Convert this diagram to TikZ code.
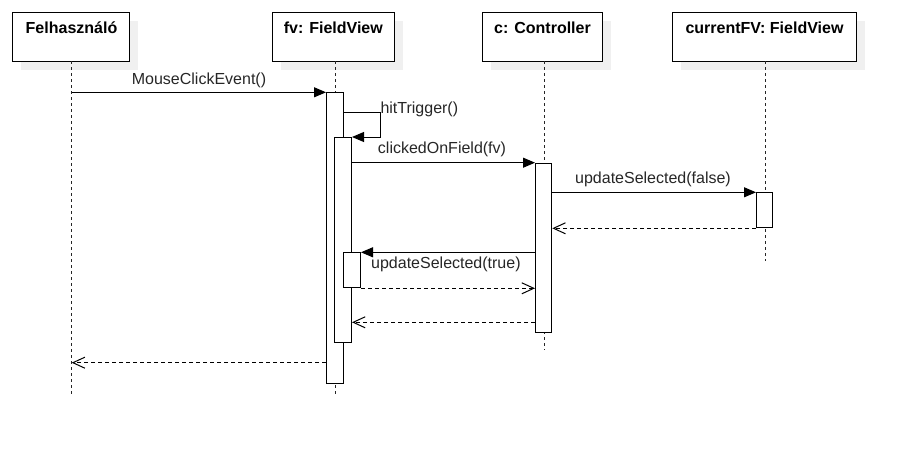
\documentclass[tikz,border=0pt]{standalone}
\usepackage{fontspec}
\setmainfont{Liberation Sans}
\usetikzlibrary{arrows.meta}
\begin{document}
\begin{tikzpicture}[x=1pt,y=-1pt,
  head/.style={draw=black,line width=1pt,fill=white,minimum width=#1,minimum height=49pt,inner sep=0pt,outer sep=0pt,anchor=north west},
  headtext/.style={font=\fontsize{16}{18}\selectfont\bfseries,anchor=base,inner sep=0pt},
  shadowbox/.style={fill=black!6,draw=none},
  life/.style={line width=1pt,dash pattern=on 3pt off 3pt,black!85},
  act/.style={draw=black,line width=1pt,fill=white},
  msg/.style={line width=1pt,-{Triangle[length=12pt,width=10pt]}},
  ret/.style={line width=1pt,dash pattern=on 4pt off 3pt,-{Straight Barb[length=12pt,width=11pt,line width=1pt]}},
  lbl/.style={font=\fontsize{16}{18}\selectfont,inner sep=0pt,text=black!85}
]
\useasboundingbox (0,0) rectangle (906,450);
% shadows
\fill[shadowbox] (21,20.7) rectangle (138,70);
\fill[shadowbox] (280.5,20.7) rectangle (402.5,70);
\fill[shadowbox] (490.5,20.7) rectangle (611,70);
\fill[shadowbox] (680.5,20.7) rectangle (865,70);
% heads
\node[head=116.5pt] (hU) at (12.7,12.3) {};
\node[head=122pt] (hF) at (272.3,12.3) {};
\node[head=120.4pt] (hC) at (482.3,12.3) {};
\node[head=184.4pt] (hV) at (672.3,12.3) {};
\node[headtext] at (71.5,33.5) {Felhasználó};
\node[headtext] at (333.3,33.5) {fv: FieldView};
\node[headtext] at (542.5,33.5) {c: Controller};
\node[headtext] at (764.5,33.5) {currentFV: FieldView};
% lifeline ends
\coordinate (eU) at (71.7,397);
\coordinate (eF) at (335.7,397);
\coordinate (eC) at (544.3,350);
\coordinate (eV) at (765.7,261);
\draw[life] (71.7,61.3) -- (eU);
\draw[life] (335.7,61.3) -- (eF);
\draw[life] (544.3,61.3) -- (eC);
\draw[life] (765.7,61.3) -- (eV);
% activations
\node[act,minimum width=16.7pt,minimum height=290.4pt,inner sep=0pt,anchor=north west] (aF) at (326,92.3) {};
\node[act,minimum width=16.7pt,minimum height=205.6pt,inner sep=0pt,anchor=north west] (aF2) at (334.3,136.7) {};
\node[act,minimum width=16.7pt,minimum height=35pt,inner sep=0pt,anchor=north west] (aF3) at (343.3,252.3) {};
\node[act,minimum width=16.3pt,minimum height=169.6pt,inner sep=0pt,anchor=north west] (aC) at (535,162.7) {};
\node[act,minimum width=16.3pt,minimum height=35pt,inner sep=0pt,anchor=north west] (aV) at (756,192.3) {};
% messages
\coordinate (uS) at (71.7,92.3);
\draw[msg] (uS) -- (aF.north west);
\node[lbl,anchor=base] at (199,84.5) {MouseClickEvent()};
\coordinate (hs) at (aF.east |- 0,112.3);
\coordinate (he) at (aF2.east |- 0,137);
\draw[msg] (hs) -- (380,112.3) -- (380,137) -- (he);
\node[lbl,anchor=base west] at (380.3,113.3) {hitTrigger()};
\coordinate (c1) at (aF2.east |- aC.north);
\draw[msg] (c1) -- (aC.north west);
\node[lbl,anchor=base] at (442,153.3) {clickedOnField(fv)};
\coordinate (c2) at (aC.east |- aV.north);
\draw[msg] (c2) -- (aV.north west);
\node[lbl,anchor=base] at (653,183.3) {updateSelected(false)};
\coordinate (r1) at (aC.east |- aV.south);
\draw[ret] (aV.south west) -- (r1);
\coordinate (c3) at (aC.west |- aF3.north);
\draw[msg] (c3) -- (aF3.north east);
\node[lbl,anchor=base west] at (371,268.5) {updateSelected(true)};
\coordinate (r2) at (aC.west |- aF3.south);
\draw[ret] (aF3.south east) -- (r2);
\coordinate (r3s) at (aC.west |- 0,322.3);
\coordinate (r3e) at (aF2.east |- 0,322.3);
\draw[ret] (r3s) -- (r3e);
\coordinate (r4s) at (aF.west |- 0,362.7);
\coordinate (r4e) at (71.7,362.7);
\draw[ret] (r4s) -- (r4e);
\end{tikzpicture}
\end{document}
